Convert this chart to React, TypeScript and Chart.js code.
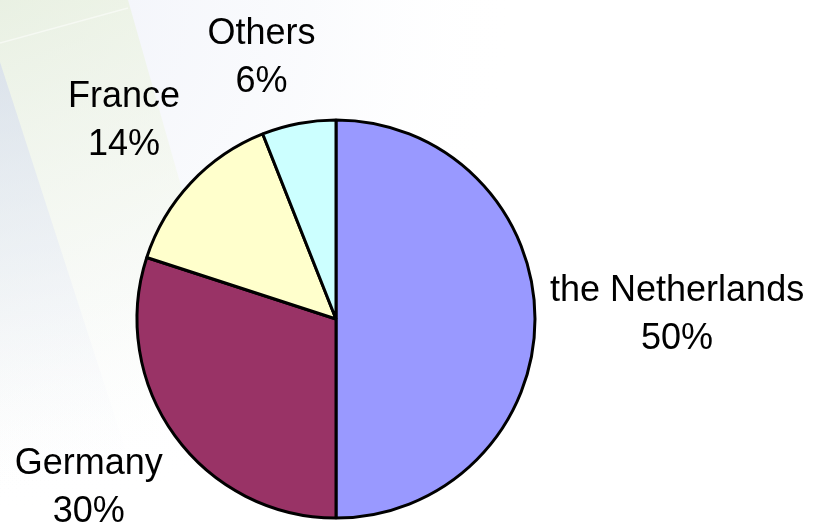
import React, { useEffect, useRef } from "react";
import { Chart, registerables } from "chart.js";

Chart.register(...registerables);

// ---- data ----
const categories = ["the Netherlands", "Germany", "France", "Others"];
const shares = [50, 30, 14, 6];
const sliceColors = ["#9999FF", "#993366", "#FFFFCC", "#CCFFFF"];

const FONT = '"Liberation Sans", Arial, Helvetica, sans-serif';

const backgroundPlugin = {
  id: "slideBackground",
  beforeDraw(chart: any) {
    const { ctx, width, height } = chart;
    ctx.save();
    ctx.fillStyle = "#ffffff";
    ctx.fillRect(0, 0, width, height);

    // faint overall bluish tint at the top-left
    let g = ctx.createRadialGradient(0, 0, 0, 0, 0, 520);
    g.addColorStop(0, "rgba(236,239,248,0.85)");
    g.addColorStop(0.6, "rgba(244,246,251,0.45)");
    g.addColorStop(1, "rgba(255,255,255,0)");
    ctx.fillStyle = g;
    ctx.fillRect(0, 0, width, height);

    // green diagonal band
    g = ctx.createLinearGradient(0, 0, 160, 440);
    g.addColorStop(0, "rgba(230,240,215,0.65)");
    g.addColorStop(0.5, "rgba(242,247,233,0.5)");
    g.addColorStop(1, "rgba(250,253,246,0)");
    ctx.fillStyle = g;
    ctx.beginPath();
    ctx.moveTo(0, 0);
    ctx.lineTo(128, 0);
    ctx.lineTo(262, 470);
    ctx.lineTo(0, 525);
    ctx.closePath();
    ctx.fill();

    // blue-grey band on the far left
    g = ctx.createLinearGradient(0, 60, 70, 480);
    g.addColorStop(0, "rgba(210,218,237,0.65)");
    g.addColorStop(0.45, "rgba(228,233,245,0.5)");
    g.addColorStop(1, "rgba(246,247,252,0)");
    ctx.fillStyle = g;
    ctx.beginPath();
    ctx.moveTo(0, 62);
    ctx.lineTo(150, 525);
    ctx.lineTo(0, 525);
    ctx.closePath();
    ctx.fill();

    // faint light line in the top-left corner
    ctx.strokeStyle = "rgba(255,255,255,0.5)";
    ctx.lineWidth = 1.5;
    ctx.beginPath();
    ctx.moveTo(0, 43);
    ctx.lineTo(128, 8);
    ctx.stroke();
    ctx.restore();
  },
};

const labelPlugin = {
  id: "sliceLabels",
  afterDatasetsDraw(chart: any) {
    const { ctx } = chart;
    const meta = chart.getDatasetMeta(0);
    const data = chart.data.datasets[0].data as number[];
    const total = data.reduce((a: number, b: number) => a + b, 0);
    ctx.save();
    ctx.font = `36px ${FONT}`;
    ctx.fillStyle = "#000000";
    ctx.textAlign = "center";
    ctx.textBaseline = "middle";
    const lineH = 48;
    const gap = 15;
    const k = 3.4;
    meta.data.forEach((arc: any, i: number) => {
      const { x, y, startAngle, endAngle, outerRadius } = arc.getProps(
        ["x", "y", "startAngle", "endAngle", "outerRadius"],
        true
      );
      const a = (startAngle + endAngle) / 2;
      const dx = Math.cos(a);
      const dy = Math.sin(a);
      const lines = [String(chart.data.labels[i]), Math.round((data[i] / total) * 100) + "%"];
      const halfW = Math.max(...lines.map((l) => ctx.measureText(l).width)) / 2;
      const halfH = lineH - 1;
      const r = outerRadius + gap;
      const cx = x + dx * r + Math.sign(dx) * halfW * Math.min(1, Math.abs(dx) * k);
      const cy = y + dy * r + Math.sign(dy) * halfH * Math.min(1, Math.abs(dy) * k) - 4;
      lines.forEach((l, j) => {
        ctx.fillText(l, cx, cy + (j - (lines.length - 1) / 2) * lineH);
      });
    });
    ctx.restore();
  },
};

export default function App() {
  const canvasRef = useRef<HTMLCanvasElement | null>(null);

  useEffect(() => {
    if (!canvasRef.current) return;
    const chart = new Chart(canvasRef.current, {
      type: "pie",
      data: {
        labels: categories,
        datasets: [
          {
            data: shares,
            backgroundColor: sliceColors,
            borderColor: "#000000",
            borderWidth: 3,
            radius: 199,
          } as any,
        ],
      },
      options: {
        responsive: false,
        animation: false,
        events: [],
        layout: { padding: { left: 136, right: 277, top: 119, bottom: 6 } },
        plugins: {
          legend: { display: false },
          tooltip: { enabled: false },
          title: { display: false },
        },
      },
      plugins: [backgroundPlugin, labelPlugin],
    });
    return () => chart.destroy();
  }, []);

  return (
    <div style={{ position: "absolute", left: 0, top: 0, width: 813, height: 525 }}>
      <canvas ref={canvasRef} width={813} height={525} style={{ display: "block" }} />
    </div>
  );
}
